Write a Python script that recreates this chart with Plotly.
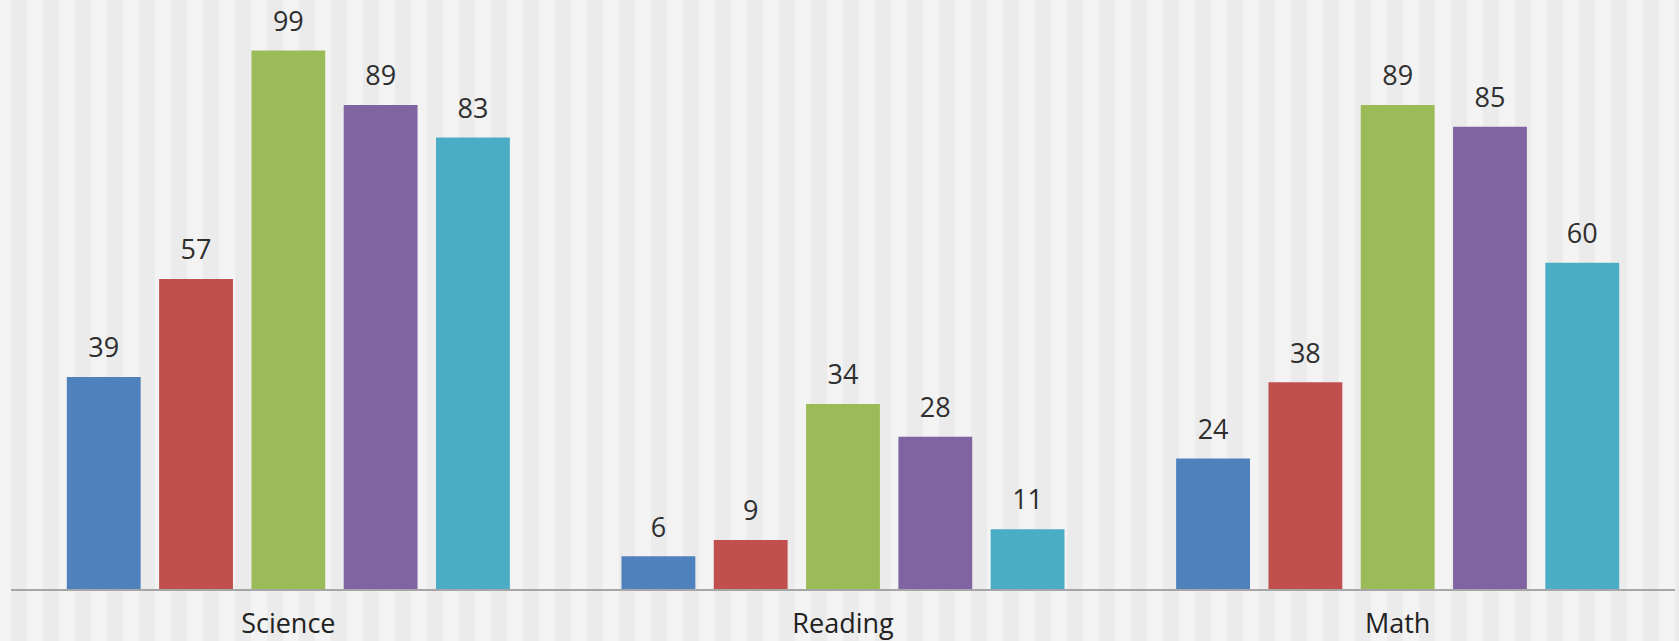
import plotly.graph_objects as go

categories = ["Science", "Reading", "Math"]
series_names = ["Series 1", "Series 2", "Series 3", "Series 4", "Series 5"]
series_values = [
    [39, 6, 24],
    [57, 9, 38],
    [99, 34, 89],
    [89, 28, 85],
    [83, 11, 60],
]
colors = ["#4F81BD", "#C0504D", "#9BBB59", "#8064A2", "#4BACC6"]

W, H = 1679, 641
ML, MR, MT, MB = 11, 4, 0, 47
label_gap = 1.6  # units of lift for the value labels

fig = go.Figure()
for i, (name, vals) in enumerate(zip(series_names, series_values)):
    fig.add_trace(go.Bar(
        x=categories, y=vals, name=name, offsetgroup=str(i),
        marker=dict(color=colors[i], line=dict(width=0)),
        hoverinfo="x+y",
    ))
for i, (name, vals) in enumerate(zip(series_names, series_values)):
    fig.add_trace(go.Bar(
        x=categories, y=[label_gap] * len(vals), base=vals, offsetgroup=str(i),
        marker=dict(color="rgba(0,0,0,0)", line=dict(width=0)),
        text=[str(v) for v in vals], texttemplate="%{text}",
        textposition="outside", cliponaxis=False,
        textfont=dict(family="Open Sans", size=27, color="#2E2E2E"),
        hoverinfo="skip", showlegend=False,
    ))

# striped background
plot_w = W - ML - MR
plot_h = H - MT - MB
shapes = []
for k in range(54):
    px0 = 11 + 32 * k
    px1 = px0 + 16
    shapes.append(dict(
        type="rect", xref="paper", yref="paper",
        x0=(px0 - ML) / plot_w, x1=(px1 - ML) / plot_w,
        y0=-MB / plot_h - 0.05, y1=1 + 0.05,
        fillcolor="#EBEBEB", line=dict(width=0), layer="below",
    ))

fig.update_layout(
    width=W, height=H,
    margin=dict(l=ML, r=MR, t=MT, b=MB),
    barmode="group", bargap=0.168, bargroupgap=0.2,
    paper_bgcolor="#F3F3F3", plot_bgcolor="rgba(0,0,0,0)",
    showlegend=False, shapes=shapes,
    font=dict(family="Open Sans", color="#2E2E2E"),
    xaxis=dict(
        showline=True, linecolor="#A6A6A6", linewidth=2,
        showgrid=False, ticks="", zeroline=False,
        ticklabelstandoff=10,
        tickfont=dict(family="Open Sans", size=27, color="#222222"),
    ),
    yaxis=dict(range=[0, 108.3], visible=False, showgrid=False, zeroline=False),
)

fig.write_html(
    "out.html",
    config={"displayModeBar": False},
    post_script="document.body.style.margin='0';document.body.style.overflow='hidden';",
)
